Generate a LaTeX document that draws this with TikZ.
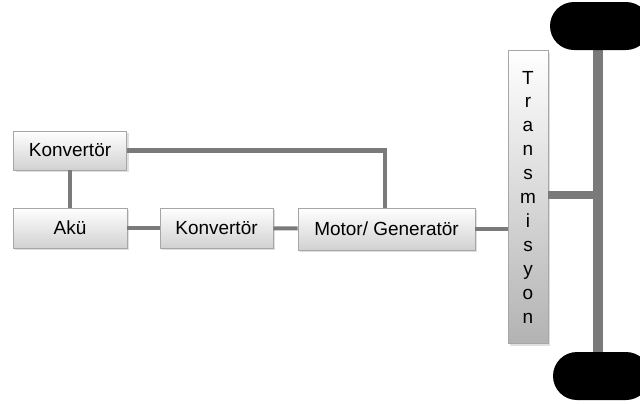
\documentclass[tikz,border=0pt]{standalone}
\usepackage{fontspec}
\setmainfont{Liberation Sans}
\usetikzlibrary{positioning}
\usetikzlibrary{shadows}
\tikzset{
	kutu/.style={
		rectangle,
		top color=white,
		bottom color=black!18,
		draw=black!35, thin,
		minimum width=2.26cm,
		minimum height=0.8cm,
		inner sep=1pt,
		font=\fontsize{10.8}{13}\selectfont,
		text centered,
		drop shadow={opacity=0.25, shadow xshift=1.2pt, shadow yshift=-1.2pt}},
	dikey/.style={
		kutu,
		bottom color=black!30,
		minimum width=0.8cm,
		minimum height=5.86cm,
		align=center,
		font=\fontsize{10.8}{13.6}\selectfont},
	hat/.style={draw=black!52, line width=2.3pt},
	aks/.style={draw=black!52, line width=5.6pt},
	teker/.style={fill=black, rounded corners=0.48cm},
}

\begin{document}
\begin{tikzpicture}[x=0.02cm, y=-0.02cm]
	\useasboundingbox (0,0) rectangle (640,403);
	% mil ve tekerler
	\coordinate (ust) at (598,26);
	\coordinate (alt) at (598,376);
	\draw[aks] (ust) -- (alt);
	\fill[teker] (550,2) rectangle (650,50);
	\fill[teker] (553,352) rectangle (650,400);
	% bloklar
	\node[kutu, minimum height=0.78cm] (konv1) at (70,150.5) {Konvertör};
	\node[kutu, minimum width=2.28cm] (aku) at (70,228) {Akü};
	\node[kutu] (konv2) at (216.5,228) {Konvertör};
	\node[kutu, minimum width=3.54cm, minimum height=0.84cm] (motor) at (386.5,229) {Motor/ Generatör};
	\node[dikey] (trans) at (528,197) {T\\r\\a\\n\\s\\m\\i\\s\\y\\o\\n};
	% baglantilar
	\draw[hat] (konv1) -- (aku);
	\draw[hat] (aku) -- (konv2);
	\draw[hat] (konv2) -- (motor);
	\draw[hat] (motor.east) -- (motor.east -| trans.west);
	\draw[hat] (konv1.east) -| (motor.north -| 385,0);
	\coordinate (orta) at (598,195);
	\draw[aks, line width=5pt] (trans.east |- orta) -- (orta);
\end{tikzpicture}
\end{document}
